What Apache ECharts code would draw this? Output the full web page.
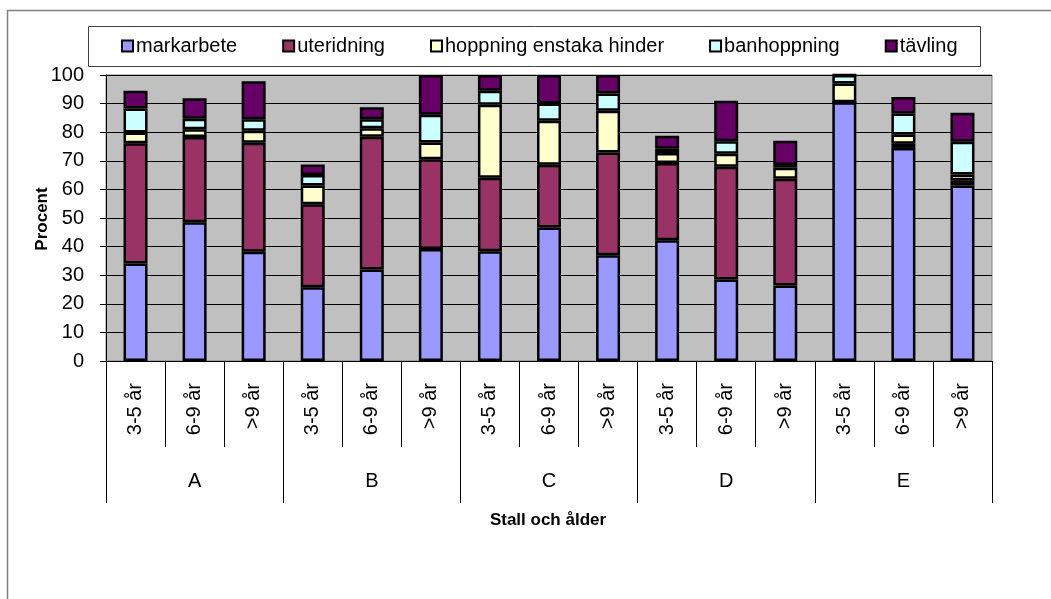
<!DOCTYPE html>
<html>
<head>
<meta charset="utf-8">
<script src="https://cdn.jsdelivr.net/npm/echarts@6/dist/echarts.min.js"></script>
<style>html,body{margin:0;padding:0;background:#fff;}#c{width:1051px;height:599px;}</style>
</head>
<body>
<div id="c"></div>
<script>
const groups = ['A', 'B', 'C', 'D', 'E'];
const ages = ['3-5 år', '6-9 år', '>9 år'];
const seriesNames = ['markarbete', 'uteridning', 'hoppning enstaka hinder', 'banhoppning', 'tävling'];
const markarbete  = [34.1, 48.5, 38.2, 25.8, 32.0, 39.2, 38.4, 46.7, 37.0, 42.2, 28.5, 26.4, 90.5, 74.5, 61.4];
const uteridning  = [42.0, 29.8, 38.1, 29.0, 46.4, 31.3, 25.7, 21.9, 35.9, 27.0, 39.4, 37.3, 0, 1.5, 1.8];
const hoppning    = [3.8, 2.7, 4.2, 6.6, 3.0, 5.9, 25.5, 15.4, 14.6, 3.5, 4.6, 3.9, 6.5, 3.2, 2.0];
const banhoppning = [8.4, 3.7, 4.0, 3.6, 3.1, 9.7, 4.9, 6.0, 6.0, 1.5, 4.3, 0.9, 3.0, 7.3, 11.5];
const tavling     = [6.2, 7.2, 13.3, 3.7, 4.2, 13.9, 5.5, 10.0, 6.5, 4.6, 14.2, 8.5, 0, 5.8, 10.1];
const yTicks = [0, 10, 20, 30, 40, 50, 60, 70, 80, 90, 100];

const colors = ['#9999FF', '#993366', '#FFFFCC', '#CCFFFF', '#660066'];
const values = [markarbete, uteridning, hoppning, banhoppning, tavling];
const categories = [];
groups.forEach(g => ages.forEach(a => categories.push(a)));

const FONT = 'Liberation Sans, Arial, sans-serif';
const chart = echarts.init(document.getElementById('c'), null, {renderer: 'canvas'});
const option = {
  animation: false,
  textStyle: {fontFamily: FONT, color: '#000'},
  grid: {left: 106, right: 59, top: 75, bottom: 238, show: true, backgroundColor: '#C0C0C0', borderColor: '#808080', borderWidth: 1},
  legend: {
    left: 116, top: 31, itemGap: 45, itemWidth: 11, itemHeight: 11, icon: 'rect',
    textStyle: {fontSize: 20, color: '#000', fontFamily: FONT, padding: [0, 0, 0, -2]},
    data: seriesNames
  },
  graphic: [
    {type: 'rect', silent: true, z: 0, shape: {x: 7.5, y: 10.5, width: 1100, height: 700}, style: {fill: 'none', stroke: '#808080', lineWidth: 1.5}},
    {type: 'rect', silent: true, z: 0, shape: {x: 88.5, y: 26.5, width: 892, height: 40}, style: {fill: '#fff', stroke: '#404040', lineWidth: 1}},
    {type: 'text', silent: true, z: 10, x: 42, y: 219, rotation: Math.PI / 2, style: {text: 'Procent', font: 'bold 17px ' + FONT, fill: '#000', textAlign: 'center', textVerticalAlign: 'middle'}},
    {type: 'text', silent: true, z: 10, x: 548, y: 520, style: {text: 'Stall och ålder', font: 'bold 17px ' + FONT, fill: '#000', textAlign: 'center', textVerticalAlign: 'middle'}}
  ],
  xAxis: [
    {
      type: 'category', data: categories, position: 'bottom', boundaryGap: true,
      axisLine: {show: true, lineStyle: {color: '#000', width: 1}},
      axisTick: {show: true, interval: 0, length: 86, lineStyle: {color: '#000', width: 1}},
      axisLabel: {interval: 0, rotate: 90, margin: 22, fontSize: 20, color: '#000', fontFamily: FONT}
    },
    {
      type: 'category', data: groups, position: 'bottom', boundaryGap: true,
      axisLine: {show: false},
      axisTick: {show: true, interval: 0, length: 142, lineStyle: {color: '#000', width: 1}},
      axisLabel: {interval: 0, margin: 110, fontSize: 20, color: '#000', fontFamily: FONT}
    }
  ],
  yAxis: {
    type: 'value', min: yTicks[0], max: yTicks[yTicks.length - 1], interval: 10,
    axisLine: {show: true, lineStyle: {color: '#000', width: 1}},
    axisTick: {show: true, length: 6, lineStyle: {color: '#000'}},
    axisLabel: {fontSize: 20, color: '#000', margin: 22, fontFamily: FONT},
    splitLine: {show: true, lineStyle: {color: '#000', width: 1}}
  },
  series: seriesNames.map((n, i) => ({
    name: n, type: 'bar', stack: 'total', xAxisIndex: 0, barWidth: 24,
    itemStyle: {color: colors[i], borderColor: '#000', borderWidth: 2.5},
    data: values[i]
  }))
};
chart.setOption(option);
</script>
</body>
</html>
